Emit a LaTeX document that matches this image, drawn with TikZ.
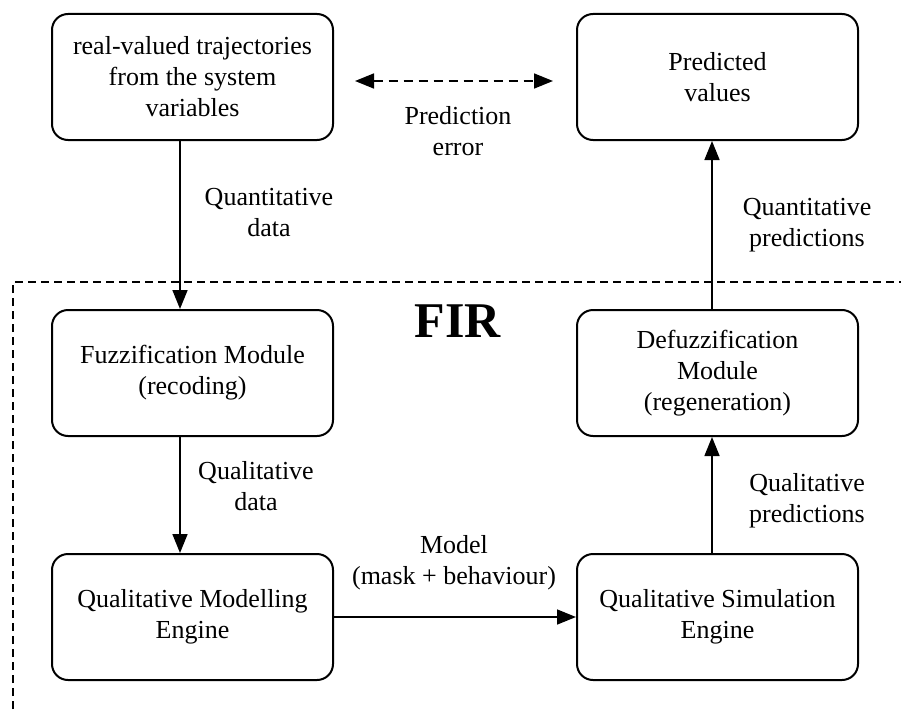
\documentclass[tikz,border=0pt]{standalone}
\usepackage{fontspec}
\setmainfont{Liberation Serif}
\usetikzlibrary{arrows.meta,calc}
\begin{document}
\begin{tikzpicture}[x=1pt,y=-1pt,
  box/.style={draw,line width=2pt,rounded corners=16pt,minimum width=281pt,minimum height=126pt,inner sep=0pt,align=center,font=\fontsize{26}{31}\selectfont},
  lbl/.style={align=center,font=\fontsize{26}{31}\selectfont,inner sep=0pt},
  arr/.style={line width=1.6pt,-{Triangle[length=19pt,width=15pt]}},
  darr/.style={line width=1.6pt,dash pattern=on 9pt off 6pt,{Triangle[length=19pt,width=15pt]}-{Triangle[length=19pt,width=15pt]}},
  frame/.style={line width=1.6pt,dash pattern=on 8pt off 5pt}]
\useasboundingbox (0,0) rectangle (901,709);
\node[box] (A) at (192.5,77) {real-valued trajectories\\from the system\\variables};
\node[box] (B) at (717.5,77) {Predicted\\values};
\node[box] (C) at (192.5,373) {Fuzzification Module\\(recoding)};
\node[box] (D) at (717.5,373) {Defuzzification\\Module\\(regeneration)};
\node[box] (E) at (192.5,617) {Qualitative Modelling\\Engine};
\node[box] (F) at (717.5,617) {Qualitative Simulation\\Engine};
\coordinate (lx) at (180,0);
\coordinate (rx) at (712,0);
\coordinate (fl) at (13,709);
\coordinate (fc) at (13,282);
\coordinate (fr) at (901,282);
\draw[frame] (fl) -- (fc) -- (fr);
\node[font=\fontsize{50}{50}\selectfont\bfseries,inner sep=0pt] (fir) at (458,321) {FIR};
\draw[arr] (A.south -| lx) -- (C.north -| lx);
\draw[arr] (C.south -| lx) -- (E.north -| lx);
\draw[arr] (E.east) -- (F.west);
\draw[arr] (F.north -| rx) -- (D.south -| rx);
\draw[arr] (D.north -| rx) -- (B.south -| rx);
\draw[darr,shorten <=21pt,shorten >=23pt] ([yshift=-4pt]A.east) -- ([yshift=-4pt]B.west);
\node[lbl] (pe) at (458,131) {Prediction\\error};
\node[lbl] (qd) at (269,213) {Quantitative\\data};
\node[lbl] (qp) at (807,225) {Quantitative\\predictions};
\node[lbl] (qld) at (256,486) {Qualitative\\data};
\node[lbl] (qlp) at (807,501) {Qualitative\\predictions};
\node[lbl] (mod) at (454,563) {Model\\(mask + behaviour)};
\end{tikzpicture}
\end{document}
